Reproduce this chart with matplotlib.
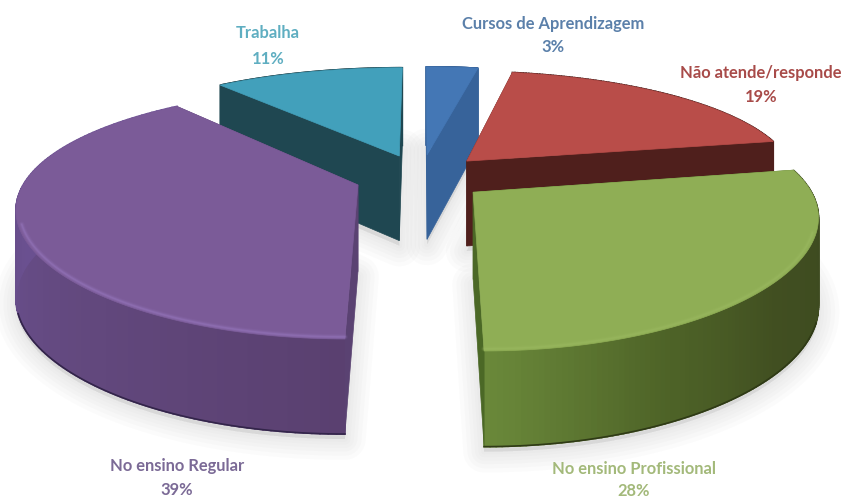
import matplotlib
matplotlib.use('Agg')
import matplotlib.pyplot as plt
import numpy as np
from matplotlib.colors import LinearSegmentedColormap

# dados
labels = ['Cursos de Aprendizagem', 'Não atende/responde', 'No ensino Profissional', 'No ensino Regular', 'Trabalha']
values = [3, 19, 28, 39, 11]
top_colors = ['#4477b5', '#b94d49', '#8fae55', '#7b5b98', '#42a0bb']
side_colors = ['#37639a', '#4f1f1c', '#4b6826', '#5a4272', '#1f4751']
text_colors = ['#5b80aa', '#a84b49', '#a3b97a', '#7b6a96', '#5faec1']
rim_colors = ['#4477b5', '#b94d49', '#9dba62', '#9a7cc4', '#42a0bb']
edge_colors = ['#37639a', '#4f1f1c', '#2f3a16', '#33254a', '#1f4751']
# cor da parede exterior, do inicio ao fim da fatia (sentido horario)
wall_ramps = [['#37639a', '#37639a'],
              ['#4f1f1c', '#4f1f1c'],
              ['#3e4b20', '#3e4b20', '#414f21', '#4f6528', '#6a883a'],
              ['#5a4070', '#63497f', '#6a5090', '#6c5296'],
              ['#1f4751', '#1f4751']]

# geometria da pizza em pixeis
cx, cy = 421, 178
R, B = 331, 116
KX = 0.17
KY = 0.22
KZ = 0.09     # perspetiva da altura
H = 86
EXPLODE = 0.2

def project(x, y, z=0):
    return cx + x*R/(1 + KX*y), cy - y*B/(1 + KY*y) + z*H/(1 + KZ*y)

def disc(t, r=1.0):
    return r*np.sin(t), r*np.cos(t)

fig = plt.figure(figsize=(8.46, 5.02), dpi=100)
ax = fig.add_axes([0, 0, 1, 1])
ax.set_xlim(0, 846)
ax.set_ylim(502, 0)
ax.axis('off')

# angulos de cada fatia
edges = np.radians(np.cumsum([0] + values)*3.6)
slices = []
for i in range(len(values)):
    mid = (edges[i] + edges[i+1])/2
    ox, oy = disc(mid, EXPLODE)
    slices.append((edges[i], edges[i+1], ox, oy))

# sombra suave
for s in slices:
    t = np.linspace(s[0], s[1], 80)
    dx, dy = disc(t)
    x, y = project(np.r_[s[2], s[2] + dx], np.r_[s[3], s[3] + dy], 1)
    for lw in [30, 24, 18, 13, 8, 4]:
        ax.fill(x, y + 5, facecolor='#777777', edgecolor='#777777', lw=lw, alpha=0.022, joinstyle='round', zorder=1)

# da fatia de tras para a da frente
for n, i in enumerate([0, 4, 1, 3, 2]):
    t0, t1, ox, oy = slices[i]
    z0 = 2 + n
    cmap = LinearSegmentedColormap.from_list('w', wall_ramps[i])

    # parede exterior, tira a tira
    t = np.linspace(t0, t1, 120)
    for a, b, c in zip(t[:-1], t[1:], np.linspace(0, 1, len(t) - 1)):
        xa, ya = disc(a)
        xb, yb = disc(b)
        px, py = project(np.array([xa, xb, xb, xa]) + ox, np.array([ya, yb, yb, ya]) + oy, np.array([0, 0, 1, 1]))
        ax.fill(px, py, facecolor=cmap(c), edgecolor=cmap(c), lw=1.2, zorder=z0)

    # paredes radiais
    for a in (t0, t1):
        xa, ya = disc(a)
        px, py = project(np.array([0, xa, xa, 0]) + ox, np.array([0, ya, ya, 0]) + oy, np.array([0, 0, 1, 1]))
        ax.fill(px, py, facecolor=side_colors[i], edgecolor=side_colors[i], lw=0.5, zorder=z0)

    # linha escura em baixo
    front = t[np.cos(t) < -0.3]
    if len(front) > 1:
        dx, dy = disc(front)
        px, py = project(dx + ox, dy + oy, 1)
        ax.plot(px, py, color=edge_colors[i], lw=1.2, zorder=z0)

    # topo
    dx, dy = disc(t)
    px, py = project(np.r_[0, dx] + ox, np.r_[0, dy] + oy)
    ax.fill(px, py, facecolor=top_colors[i], edgecolor=top_colors[i], lw=0.5, zorder=z0)

    # brilho na borda da frente
    front = t[np.cos(t) < -0.3]
    if len(front) > 1:
        dx, dy = disc(front, 0.99)
        px, py = project(dx + ox, dy + oy)
        for lw, alpha in [(4, 0.1), (2.5, 0.2), (1.2, 0.35)]:
            ax.plot(px, py, color=rim_colors[i], lw=lw, alpha=alpha, solid_capstyle='round', zorder=z0)

# rotulos
font = dict(family='Lato', weight='bold', fontsize=11.9, ha='center', va='center', zorder=20)
ax.text(553, 24, labels[0], color=text_colors[0], **font)
ax.text(553, 47, '%d%%' % values[0], color=text_colors[0], **font)
ax.text(761, 73, labels[1], color=text_colors[1], **font)
ax.text(761, 97, '%d%%' % values[1], color=text_colors[1], **font)
ax.text(634, 469, labels[2], color=text_colors[2], **font)
ax.text(634, 491, '%d%%' % values[2], color=text_colors[2], **font)
ax.text(177, 466, labels[3], color=text_colors[3], **font)
ax.text(177, 490, '%d%%' % values[3], color=text_colors[3], **font)
ax.text(268, 33, labels[4], color=text_colors[4], **font)
ax.text(268, 59, '%d%%' % values[4], color=text_colors[4], **font)

plt.savefig('out.png', dpi=100)
